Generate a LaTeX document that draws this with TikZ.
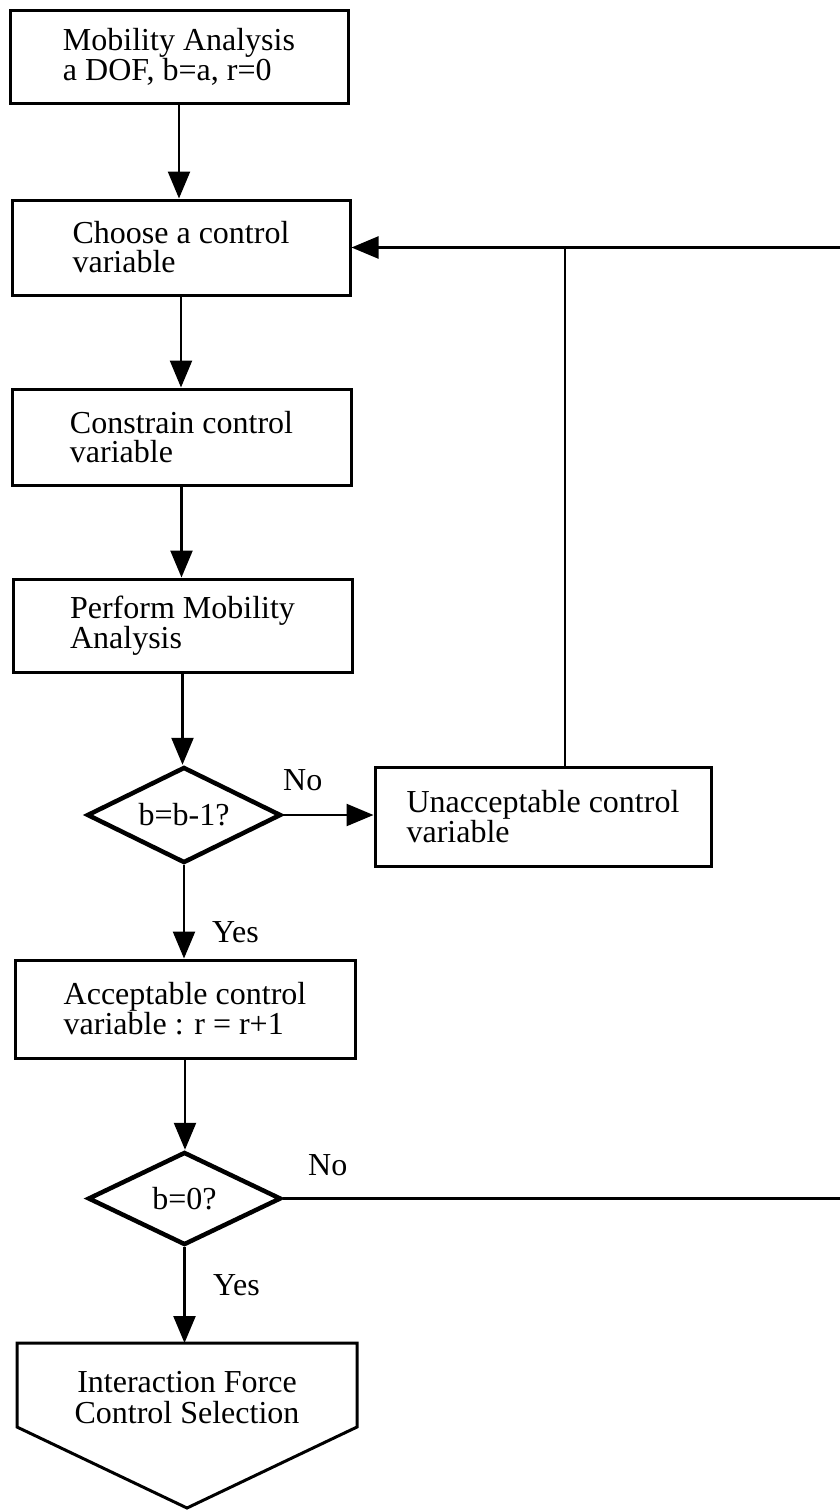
\documentclass[tikz,border=0pt]{standalone}
\usepackage{fontspec}
\setmainfont{Liberation Serif}
\usetikzlibrary{shapes.geometric,arrows.meta}
\begin{document}
\begin{tikzpicture}[x=1pt,y=-1pt,
  txt/.style={font=\fontsize{32}{#1}\selectfont},
  txt/.default=29,
  procbox/.style={draw, line width=3pt, align=left, inner sep=0pt, txt},
  decision/.style={draw, diamond, aspect=2, line width=4.5pt, inner sep=0pt, txt},
  lbl/.style={anchor=base west, inner sep=0pt, txt},
  arr/.style={line width=2.4pt, -{Triangle[length=27pt,width=22pt]}},
  plain/.style={line width=2.4pt}]
\useasboundingbox (0,0) rectangle (840,1510);

\node[procbox, minimum width=338pt, minimum height=93pt, txt=26] (mob) at (179,56.5) {Mobility Analysis\\a DOF, b=a, r=0};
\node[procbox, minimum width=338pt, minimum height=95pt] (choose) at (181,247.5) {Choose a control\\variable};
\node[procbox, minimum width=339pt, minimum height=96pt] (constr) at (181.5,437) {Constrain control\\variable};
\node[procbox, minimum width=339pt, minimum height=93pt] (perf) at (182.5,625.5) {Perform Mobility\\Analysis};
\node[decision, minimum width=194pt, minimum height=96pt] (d1) at (184,815) {b=b-1?};
\node[procbox, minimum width=336pt, minimum height=99pt, txt=30] (unacc) at (543,816.5) {Unacceptable control\\variable};
\node[procbox, minimum width=340pt, minimum height=98pt, txt=28] (acc) at (185,1009) {Acceptable control\\variable : r = r+1};
\node[decision, minimum width=193pt, minimum height=93pt] (d2) at (184.5,1198.5) {b=0?};
\node[align=center, inner sep=0pt, txt=31] (ifc) at (187,1398) {Interaction Force\\Control Selection};
\coordinate (ptop) at (187,1343);
\draw[line width=3pt] (17,1343) -- (357,1343) -- (357,1427) -- (187,1508) -- (17,1427) -- cycle;

\node[lbl] (no1) at (283,790) {No};
\node[lbl] (yes1) at (212,942) {Yes};
\node[lbl] (no2) at (308,1175) {No};
\node[lbl] (yes2) at (213,1295) {Yes};

\coordinate (rt) at (840,247.5);
\coordinate (rb) at (840,1198.5);
\coordinate (j) at (565,247.5);

\draw[arr] (mob.south) -- (mob.south |- choose.north);
\draw[arr] (choose.south) -- (choose.south |- constr.north);
\draw[arr] (constr.south) -- (constr.south |- perf.north);
\draw[arr] (perf.south) -- (perf.south |- d1.north);
\draw[arr] (d1.south) -- (d1.south |- acc.north);
\draw[arr] (acc.south) -- (acc.south |- d2.north);
\draw[arr] (d2.south) -- (d2.south |- ptop);
\draw[arr] (d1.east) -- (d1.east -| unacc.west);
\draw[plain] (unacc.north -| j) -- (j);
\draw[arr] (rt) -- (choose.east);
\draw[plain] (d2.east) -- (rb);
\end{tikzpicture}
\end{document}
